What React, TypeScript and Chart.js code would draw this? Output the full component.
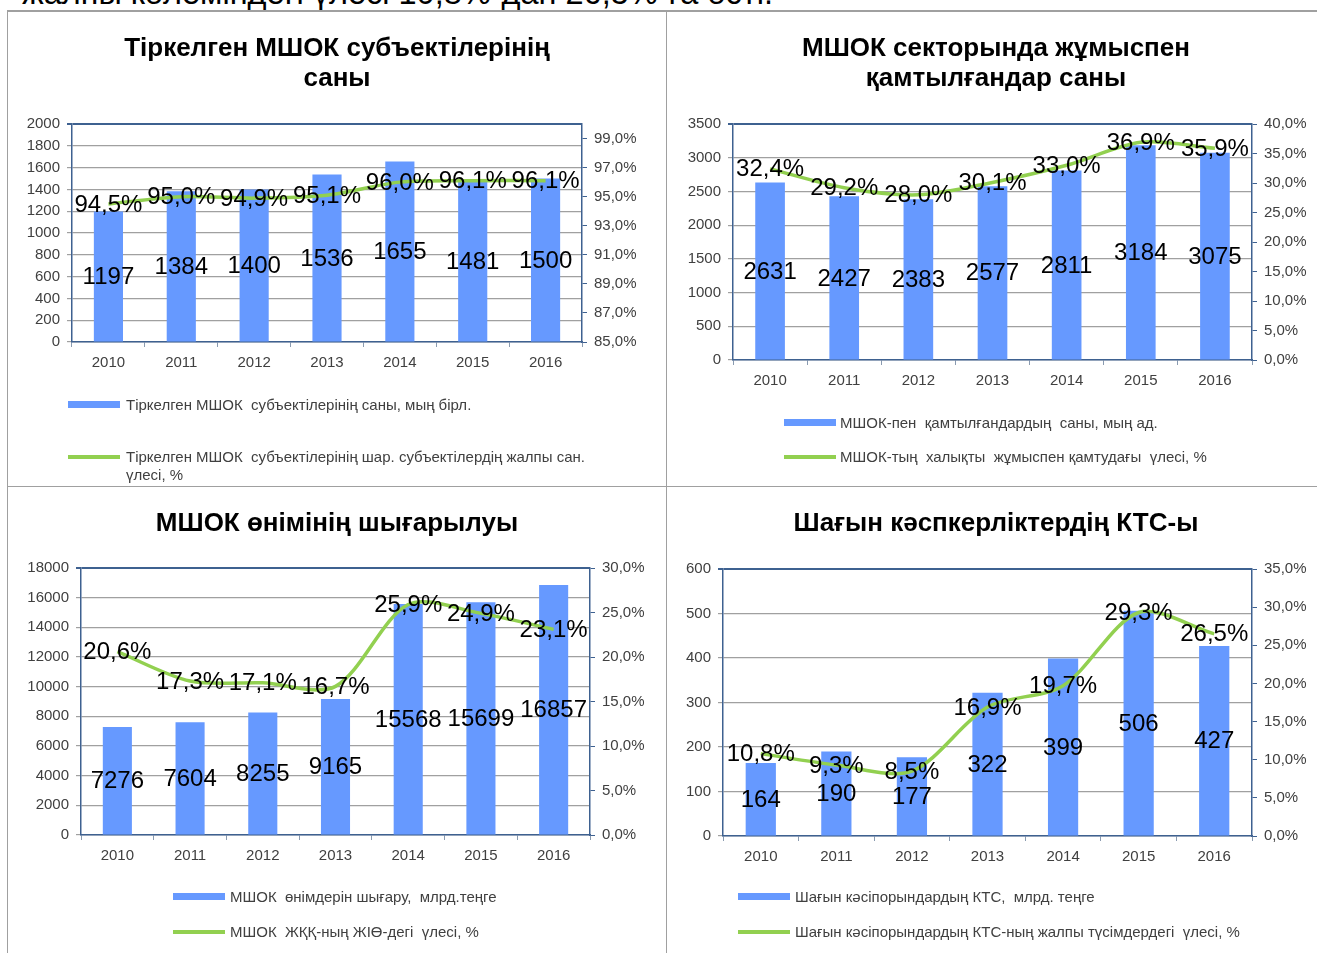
import React, { useEffect, useRef } from 'react';
import { Chart, registerables } from 'chart.js';

Chart.register(...registerables);

// ---------------- data ----------------
const YEARS = ['2010', '2011', '2012', '2013', '2014', '2015', '2016'];

const TOP_TEXT = 'жалпы көлеміндегі үлесі 10,8%-дан 26,5%-ға өсті.';

const C1_TITLE = ['Тіркелген МШОК субъектілерінің', 'саны'];
const C1_BARS = [1197, 1384, 1400, 1536, 1655, 1481, 1500];
const C1_LINE = [94.5, 95.0, 94.9, 95.1, 96.0, 96.1, 96.1];
const C1_LEFT_TICKS = [0, 200, 400, 600, 800, 1000, 1200, 1400, 1600, 1800, 2000];
const C1_RIGHT_TICKS = [85, 87, 89, 91, 93, 95, 97, 99];
const C1_RIGHT_RANGE = [85, 100];
const C1_BAR_NAME = ['Тіркелген МШОК  субъектілерінің саны, мың бірл.'];
const C1_LINE_NAME = ['Тіркелген МШОК  субъектілерінің шар. субъектілердің жалпы сан.', 'үлесі, %'];

const C2_TITLE = ['МШОК секторында жұмыспен', 'қамтылғандар саны'];
const C2_BARS = [2631, 2427, 2383, 2577, 2811, 3184, 3075];
const C2_LINE = [32.4, 29.2, 28.0, 30.1, 33.0, 36.9, 35.9];
const C2_LEFT_TICKS = [0, 500, 1000, 1500, 2000, 2500, 3000, 3500];
const C2_RIGHT_TICKS = [0, 5, 10, 15, 20, 25, 30, 35, 40];
const C2_RIGHT_RANGE = [0, 40];
const C2_BAR_NAME = ['МШОК-пен  қамтылғандардың  саны, мың ад.'];
const C2_LINE_NAME = ['МШОК-тың  халықты  жұмыспен қамтудағы  үлесі, %'];

const C3_TITLE = ['МШОК өнімінің шығарылуы'];
const C3_BARS = [7276, 7604, 8255, 9165, 15568, 15699, 16857];
const C3_LINE = [20.6, 17.3, 17.1, 16.7, 25.9, 24.9, 23.1];
const C3_LEFT_TICKS = [0, 2000, 4000, 6000, 8000, 10000, 12000, 14000, 16000, 18000];
const C3_RIGHT_TICKS = [0, 5, 10, 15, 20, 25, 30];
const C3_RIGHT_RANGE = [0, 30];
const C3_BAR_NAME = ['МШОК  өнімдерін шығару,  млрд.теңге'];
const C3_LINE_NAME = ['МШОК  ЖҚҚ-ның ЖІӨ-дегі  үлесі, %'];

const C4_TITLE = ['Шағын кәспкерліктердің КТС-ы'];
const C4_BARS = [164, 190, 177, 322, 399, 506, 427];
const C4_LINE = [10.8, 9.3, 8.5, 16.9, 19.7, 29.3, 26.5];
const C4_LEFT_TICKS = [0, 100, 200, 300, 400, 500, 600];
const C4_RIGHT_TICKS = [0, 5, 10, 15, 20, 25, 30, 35];
const C4_RIGHT_RANGE = [0, 35];
const C4_BAR_NAME = ['Шағын кәсіпорындардың КТС,  млрд. теңге'];
const C4_LINE_NAME = ['Шағын кәсіпорындардың КТС-ның жалпы түсімдердегі  үлесі, %'];

// ---------------- styles ----------------
const FONT = '"Liberation Sans", Arial, sans-serif';
const BAR_COLOR = '#6699FF';
const LINE_COLOR = '#92D050';
const AXIS_COLOR = '#3E6190';
const GRID_COLOR = '#A0A0A0';
const TICK_TEXT = '#404040';
const FRAME = '#A0A0A0';

const pct = (v: number) => v.toFixed(1).replace('.', ',') + '%';

const valueLabels = {
  id: 'valueLabels',
  afterDatasetsDraw(chart: any) {
    const ctx = chart.ctx;
    ctx.save();
    ctx.font = `24px ${FONT}`;
    ctx.fillStyle = '#000000';
    ctx.textAlign = 'center';
    ctx.textBaseline = 'middle';
    const order = [1, 0];
    order.forEach((di) => {
      const ds = chart.data.datasets[di];
      const meta = chart.getDatasetMeta(di);
      meta.data.forEach((el: any, i: number) => {
        const v = ds.data[i] as number;
        if (ds.type === 'bar') {
          const p = el.getProps(['x', 'y', 'base'], true);
          ctx.fillText(String(v), p.x, (p.y + p.base) / 2 + 1);
        } else {
          ctx.fillText(pct(v), el.x, el.y + 1);
        }
      });
    });
    ctx.restore();
  },
};

type Rect = { x: number; y: number; w: number; h: number };
type Pad = { l: number; r: number; t: number; b: number };
type LegendPos = { sx: number; tx: number; y1: number; y2: number };

interface PanelProps {
  title: string[];
  bars: number[];
  line: number[];
  leftTicks: number[];
  rightTicks: number[];
  rightRange: number[];
  barName: string[];
  lineName: string[];
  canvas: Rect;
  pad: Pad;
  leftWidth: number;
  titleY: number;
  legend: LegendPos;
}

function Panel(props: PanelProps) {
  const ref = useRef<HTMLCanvasElement | null>(null);
  const { canvas, pad } = props;

  useEffect(() => {
    if (!ref.current) return;
    const leftMax = props.leftTicks[props.leftTicks.length - 1];
    const leftStep = props.leftTicks[1] - props.leftTicks[0];
    const chart = new Chart(ref.current, {
      type: 'bar',
      data: {
        labels: YEARS,
        datasets: [
          {
            type: 'line',
            label: props.lineName.join(' '),
            data: props.line,
            yAxisID: 'y1',
            borderColor: LINE_COLOR,
            backgroundColor: LINE_COLOR,
            borderWidth: 3.5,
            pointRadius: 0,
            tension: 0.3,
            order: 0,
          } as any,
          {
            type: 'bar',
            label: props.barName.join(' '),
            data: props.bars,
            yAxisID: 'y',
            backgroundColor: BAR_COLOR,
            barPercentage: 0.4,
            categoryPercentage: 1.0,
            order: 1,
          } as any,
        ],
      },
      options: {
        responsive: false,
        animation: false,
        layout: { padding: { left: pad.l, right: pad.r, top: pad.t, bottom: pad.b } },
        plugins: {
          legend: { display: false },
          title: { display: false },
          tooltip: { enabled: false },
        },
        scales: {
          x: {
            offset: true,
            grid: {
              display: true,
              offset: true,
              drawOnChartArea: false,
              drawTicks: true,
              tickLength: 5,
              color: '#8A9BB0',
            },
            border: { color: AXIS_COLOR, width: 1.5 },
            ticks: { color: TICK_TEXT, font: { family: FONT, size: 15 }, padding: 7 },
            afterFit: (s: any) => {
              s.height = 30;
            },
          },
          y: {
            position: 'left',
            min: 0,
            max: leftMax,
            ticks: {
              stepSize: leftStep,
              color: TICK_TEXT,
              font: { family: FONT, size: 15 },
              padding: 7,
              callback: (v: any) => String(v),
            },
            grid: {
              color: (c: any) => (c.tick && c.tick.value === leftMax ? AXIS_COLOR : GRID_COLOR),
              lineWidth: (c: any) => (c.tick && c.tick.value === leftMax ? 2 : 1.2),
              tickLength: 5,
            },
            border: { color: AXIS_COLOR, width: 1.5 },
            afterBuildTicks: (s: any) => {
              s.ticks = props.leftTicks.map((v) => ({ value: v }));
            },
            afterFit: (s: any) => {
              s.width = props.leftWidth;
            },
          },
          y1: {
            position: 'right',
            min: props.rightRange[0],
            max: props.rightRange[1],
            ticks: {
              color: TICK_TEXT,
              font: { family: FONT, size: 15 },
              padding: 7,
              callback: (v: any) => pct(Number(v)),
            },
            grid: { drawOnChartArea: false, tickLength: 5, color: AXIS_COLOR },
            border: { color: AXIS_COLOR, width: 1.5 },
            afterBuildTicks: (s: any) => {
              s.ticks = props.rightTicks.map((v) => ({ value: v }));
            },
            afterFit: (s: any) => {
              s.width = 60;
            },
          },
        },
      } as any,
      plugins: [valueLabels],
    });
    return () => chart.destroy();
  }, []);

  const titleStyle: React.CSSProperties = {
    position: 'absolute',
    left: canvas.x,
    top: props.titleY,
    width: 658,
    textAlign: 'center',
    fontFamily: FONT,
    fontWeight: 'bold',
    fontSize: 26,
    lineHeight: '30px',
    color: '#000',
  };
  const legText = (x: number, y: number): React.CSSProperties => ({
    position: 'absolute',
    left: x,
    top: y - 9,
    fontFamily: FONT,
    fontSize: 15,
    lineHeight: '18px',
    color: TICK_TEXT,
    whiteSpace: 'pre',
  });
  const lg = props.legend;

  return (
    <>
      <canvas
        ref={ref}
        width={canvas.w}
        height={canvas.h}
        style={{ position: 'absolute', left: canvas.x, top: canvas.y, width: canvas.w, height: canvas.h }}
      />
      <div style={titleStyle}>
        {props.title.map((t, i) => (
          <div key={i}>{t}</div>
        ))}
      </div>
      <div
        style={{ position: 'absolute', left: lg.sx, top: lg.y1 - 4, width: 52, height: 7, background: BAR_COLOR }}
      />
      <div style={legText(lg.tx, lg.y1)}>{props.barName.join('\n')}</div>
      <div
        style={{ position: 'absolute', left: lg.sx, top: lg.y2 - 2, width: 52, height: 3.5, background: LINE_COLOR }}
      />
      <div style={legText(lg.tx, lg.y2)}>{props.lineName.join('\n')}</div>
    </>
  );
}

export default function App() {
  const line = (l: number, t: number, w: number, h: number): React.CSSProperties => ({
    position: 'absolute',
    left: l,
    top: t,
    width: w,
    height: h,
    background: FRAME,
  });
  return (
    <div
      style={{
        position: 'absolute',
        left: 0,
        top: 0,
        width: 1317,
        height: 953,
        overflow: 'hidden',
        background: '#ffffff',
        fontFamily: FONT,
      }}
    >
      <div
        style={{
          position: 'absolute',
          left: 22,
          top: -23,
          fontFamily: FONT,
          fontSize: 32.5,
          lineHeight: '32px',
          color: '#000',
          whiteSpace: 'nowrap',
        }}
      >
        {TOP_TEXT}
      </div>
      <div style={line(7, 10, 1310, 1.5)} />
      <div style={line(6.5, 10, 1.5, 943)} />
      <div style={line(665.5, 10, 1.5, 943)} />
      <div style={line(7, 485.5, 1310, 1.5)} />

      <Panel
        title={C1_TITLE}
        bars={C1_BARS}
        line={C1_LINE}
        leftTicks={C1_LEFT_TICKS}
        rightTicks={C1_RIGHT_TICKS}
        rightRange={C1_RIGHT_RANGE}
        barName={C1_BAR_NAME}
        lineName={C1_LINE_NAME}
        canvas={{ x: 8, y: 12, w: 657, h: 473 }}
        pad={{ l: 4, r: 23, t: 112, b: 113 }}
        leftWidth={60}
        titleY={32}
        legend={{ sx: 68, tx: 126, y1: 405, y2: 457 }}
      />
      <Panel
        title={C2_TITLE}
        bars={C2_BARS}
        line={C2_LINE}
        leftTicks={C2_LEFT_TICKS}
        rightTicks={C2_RIGHT_TICKS}
        rightRange={C2_RIGHT_RANGE}
        barName={C2_BAR_NAME}
        lineName={C2_LINE_NAME}
        canvas={{ x: 667, y: 12, w: 650, h: 473 }}
        pad={{ l: 6, r: 5, t: 112, b: 95 }}
        leftWidth={60}
        titleY={32}
        legend={{ sx: 784, tx: 840, y1: 423, y2: 457 }}
      />
      <Panel
        title={C3_TITLE}
        bars={C3_BARS}
        line={C3_LINE}
        leftTicks={C3_LEFT_TICKS}
        rightTicks={C3_RIGHT_TICKS}
        rightRange={C3_RIGHT_RANGE}
        barName={C3_BAR_NAME}
        lineName={C3_LINE_NAME}
        canvas={{ x: 8, y: 487, w: 657, h: 466 }}
        pad={{ l: 3, r: 15, t: 81, b: 88 }}
        leftWidth={70}
        titleY={507}
        legend={{ sx: 173, tx: 230, y1: 897, y2: 932 }}
      />
      <Panel
        title={C4_TITLE}
        bars={C4_BARS}
        line={C4_LINE}
        leftTicks={C4_LEFT_TICKS}
        rightTicks={C4_RIGHT_TICKS}
        rightRange={C4_RIGHT_RANGE}
        barName={C4_BAR_NAME}
        lineName={C4_LINE_NAME}
        canvas={{ x: 667, y: 487, w: 650, h: 466 }}
        pad={{ l: 1, r: 5, t: 82, b: 87 }}
        leftWidth={55}
        titleY={507}
        legend={{ sx: 738, tx: 795, y1: 897, y2: 932 }}
      />
    </div>
  );
}
